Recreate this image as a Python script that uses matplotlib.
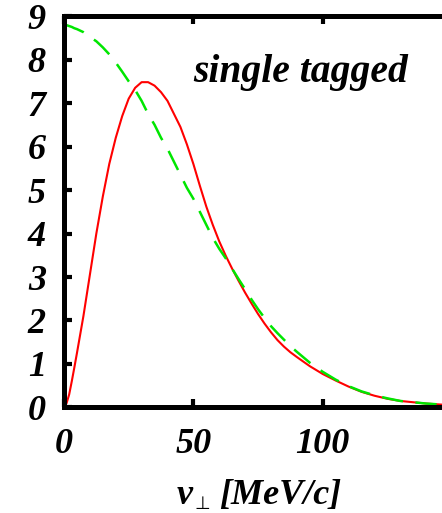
import matplotlib

matplotlib.use("Agg")
import matplotlib.pyplot as plt


# values
p_perp = [0, 1, 2, 3, 4, 5, 7.5, 10, 12.5, 15, 17.5, 20, 22.5, 25, 27.5, 30,
          32.5, 35, 37.5, 40, 42.5, 45, 47.5, 50, 52.5, 55, 57.5, 60, 62.5,
          65, 67.5, 70, 72.5, 75, 77.5, 80, 82.5, 85, 87.5, 90, 95, 100, 105,
          110, 115, 120, 125, 130, 135, 140, 145, 150]

single_tagged = [0, 0.1, 0.3, 0.6, 0.92, 1.25, 2.1, 3.05, 4.0, 4.85, 5.6,
                 6.2, 6.7, 7.1, 7.35, 7.48, 7.48, 7.4, 7.25, 7.05, 6.75,
                 6.45, 6.05, 5.6, 5.1, 4.62, 4.2, 3.82, 3.49, 3.19, 2.91,
                 2.64, 2.39, 2.15, 1.93, 1.73, 1.55, 1.4, 1.27, 1.16, 0.95,
                 0.77, 0.62, 0.48, 0.36, 0.27, 0.2, 0.15, 0.12, 0.09, 0.07,
                 0.05]

reference = [8.8, 8.79, 8.77, 8.75, 8.72, 8.7, 8.63, 8.52, 8.42, 8.28, 8.12,
             7.93, 7.72, 7.5, 7.3, 7.05, 6.75, 6.5, 6.2, 5.95, 5.65, 5.35,
             5.05, 4.8, 4.5, 4.2, 3.9, 3.65, 3.43, 3.19, 2.95, 2.72, 2.48,
             2.26, 2.06, 1.87, 1.71, 1.56, 1.41, 1.28, 1.03, 0.82, 0.64,
             0.49, 0.37, 0.28, 0.21, 0.15, 0.12, 0.09, 0.07, 0.05]

x_ticks = [0, 50, 100]
y_ticks = list(range(10))

W, H = 442, 513


def px(x, y):
    # pixel position from top-left -> figure fraction
    return x / W, 1 - y / H


def main() -> None:
    plt.rcParams["font.family"] = "Liberation Serif"
    plt.rcParams["font.weight"] = "bold"
    plt.rcParams["font.style"] = "italic"

    fig = plt.figure(figsize=(W / 100, H / 100), dpi=100)
    # axes run past the right edge, the reference is cropped there
    ax = fig.add_axes([0.1448, 0.2057, 0.878, 0.763])

    ax.plot(p_perp, single_tagged, color="#ff0000", lw=1.5)
    ax.plot(p_perp, reference, color="#00e600", lw=1.8, dashes=(8.5, 5))

    ax.set_xlim(0, 150)
    ax.set_ylim(0, 9)
    ax.set_xticks(x_ticks)
    ax.set_yticks(y_ticks)
    ax.set_xticklabels([str(v) for v in x_ticks])
    ax.set_yticklabels([str(v) for v in y_ticks])

    for side in ax.spines.values():
        side.set_linewidth(3.6)

    ax.tick_params(direction="in", length=6, width=3, top=True, right=True,
                   labelsize=26)
    ax.tick_params(axis="x", pad=15)
    ax.tick_params(axis="y", pad=13)

    # x label in pieces so the perp subscript can come from DejaVu
    fig.text(*px(177, 504), "v", fontsize=26, weight="bold", style="italic",
             ha="left", va="baseline")
    fig.text(*px(194, 513), "\u22a5", fontsize=13, family="DejaVu Sans",
             weight="normal", style="normal", ha="left", va="bottom")
    fig.text(*px(219, 504), "[MeV/c]", fontsize=26, weight="bold",
             style="italic", ha="left", va="baseline")

    ax.text(0.332, 0.831, "single tagged", transform=ax.transAxes,
            fontsize=28.5, ha="left", va="baseline")

    fig.savefig("out.png", dpi=100)
    plt.close(fig)


if __name__ == "__main__":
    main()
